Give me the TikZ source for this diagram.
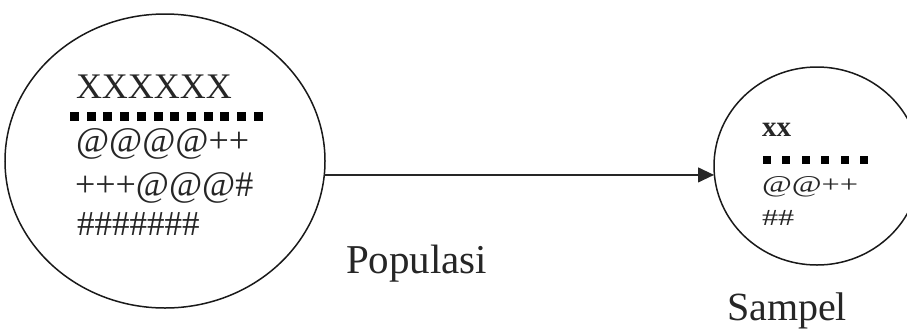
\documentclass[tikz,border=0pt]{standalone}
\usepackage{fontspec}
\setmainfont{Liberation Serif}
\usetikzlibrary{shapes.geometric,arrows.meta}
\tikzset{
  ring/.style={draw=black!90, line width=1.5pt, ellipse, inner sep=0pt, outer sep=0pt},
  txt/.style={anchor=base west, inner sep=0pt, outer sep=0pt, text=black!85},
  conn/.style={draw=black!85, line width=1.2pt, -{Triangle[length=16pt,width=15pt]}},
  dotsq/.style={fill=black}
}
\newcommand{\fsz}[1]{\fontsize{#1}{#1}\selectfont}
\begin{document}
\begin{tikzpicture}[x=1pt,y=-1pt]
\useasboundingbox (0,0) rectangle (907,333);
\clip (0,0) rectangle (907,333);
% circles
\node[ring, minimum width=320pt, minimum height=294pt] (big) at (165,161) {};
\node[ring, minimum width=206pt, minimum height=198pt] (small) at (817,166) {};
% population contents
\node[txt] (p1) at (76,98) {\fsz{36}XXXXXX};
\foreach \i in {0,...,11} {
  \fill[dotsq] (70+\i*16.7,112) rectangle ++(9,9);
}
\node[txt] (p2) at (76,152) {\fsz{36}@@@@++};
\node[txt] (p3) at (75,196) {\fsz{36}+++@@@\#};
\node[txt] (p4) at (77,235) {\fsz{35}\#\#\#\#\#\#\#};
% sample contents
\node[txt] (s1) at (762,136) {\fsz{29}\bfseries xx};
\foreach \i in {0,...,5} {
  \fill[dotsq] (763+\i*19.4,156) rectangle ++(8,8);
}
\node[txt] (s2) at (762,192) {\fsz{24}\scalebox{1.35}[1]{@@++}};
\node[txt] (s3) at (762,225) {\fsz{23}\scalebox{1.4}[1]{\#\#}};
% labels
\node[txt] (lp) at (346,273) {\fsz{41}Populasi};
\node[txt] (ls) at (727,320) {\fsz{40}Sampel};
% connector
\draw[conn] (big.-5.4) -- (big.-5.4 -| small.west);
\end{tikzpicture}
\end{document}
